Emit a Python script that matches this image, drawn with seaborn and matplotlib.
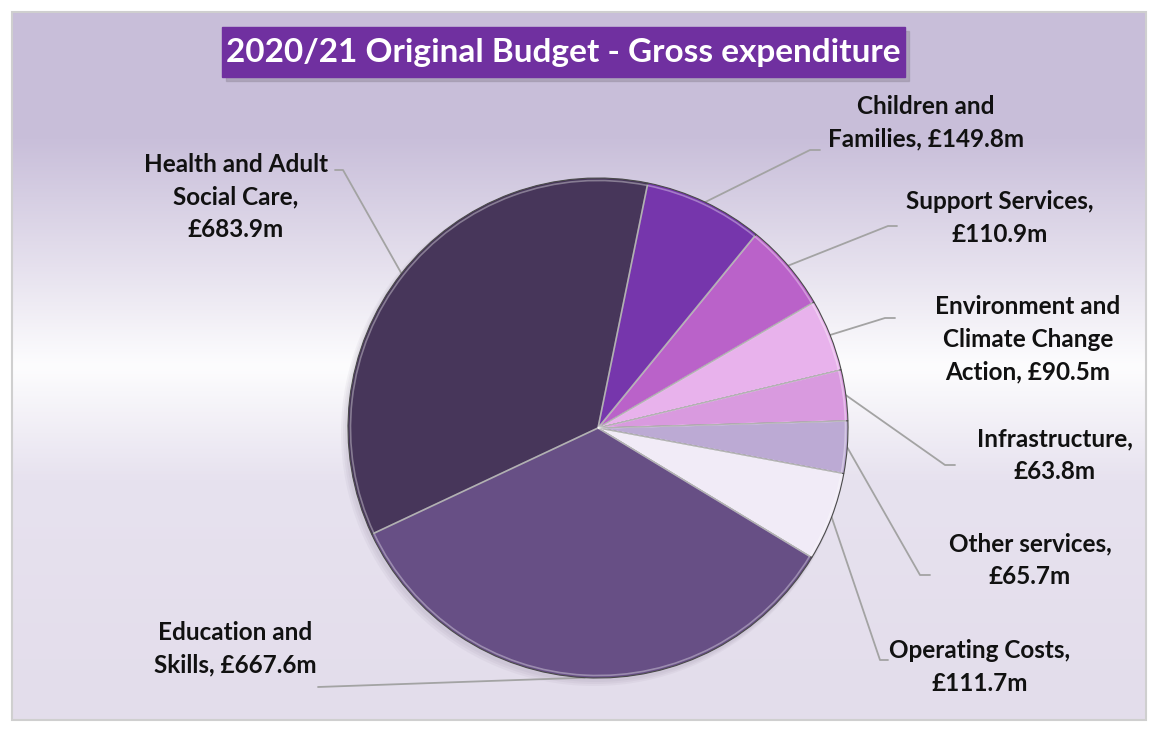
import numpy as np
import seaborn as sns
import matplotlib.pyplot as plt
from matplotlib.colors import LinearSegmentedColormap
from matplotlib.patches import Rectangle

# budget data (GBP millions), clockwise from the top
services = ["Children and\nFamilies", "Support Services,", "Environment and\nClimate Change\nAction", "Infrastructure,",
            "Other services,", "Operating Costs,", "Education and\nSkills", "Health and Adult\nSocial Care,"]
amounts = [149.8, 110.9, 90.5, 63.8, 65.7, 111.7, 667.6, 683.9]
colours = ["#7636AC", "#BA62C9", "#E8B2EC", "#D99ADF", "#BCAAD4", "#F1EBF7", "#674F85", "#47365A"]

sns.set_theme(style="white")
plt.rcParams['font.family'] = ['Lato', 'DejaVu Sans']

W, H = 1155, 729
fig = plt.figure(figsize=(W / 100, H / 100), dpi=100)
ax = fig.add_axes([0, 0, 1, 1])

def Y(y):
    return H - y

# background gradient inside the frame
bg = LinearSegmentedColormap.from_list("bg", [(0, "#C8BED9"), (0.18, "#C9BFDA"), (0.36, "#E6E1EE"),
                                              (0.5, "#FDFDFE"), (0.66, "#E7E2EF"), (1, "#E3DDEB")])
grad = np.linspace(0, 1, 256).reshape(-1, 1)
ax.imshow(grad, cmap=bg, extent=(12, 1146, Y(720), Y(12)), aspect='auto', zorder=0)
ax.add_patch(Rectangle((12, Y(720)), 1134, 708, fill=False, edgecolor="#CFCFCF", lw=1.5, zorder=1))

cx, cy, r = 598, Y(428), 250
# soft shadow under the pie
for k in range(3):
    ax.pie([1], colors=["#5A4A6A"], center=(cx - 2 - k, cy - 3 - k), radius=r + 1 + k,
           wedgeprops=dict(alpha=0.05, linewidth=0, zorder=2))
wedges, _ = ax.pie(amounts, colors=colours, startangle=78.5, counterclock=False,
                   center=(cx, cy), radius=r,
                   wedgeprops=dict(edgecolor="#4A4A4A", linewidth=0.8, zorder=3))
# light bevel highlight along the wedge edges
for w in wedges:
    span = w.theta2 - w.theta1
    w2, _ = ax.pie([span, 360 - span], startangle=w.theta1,
                   center=(cx, cy), radius=r - 2.5, colors=["none", "none"],
                   wedgeprops=dict(edgecolor="white", linewidth=1.2, alpha=0.35, zorder=4))
    w2[1].set_visible(False)

# label layout: text centre, leader elbow points
labels_pos = [
    ((926, 123), [(810, 150), (820, 150)]),
    ((1000, 218), [(888, 226), (897, 226)]),
    ((1028, 339), [(885, 318), (895, 318)]),
    ((1055, 455), [(945, 465), (955, 465)]),
    ((1030, 560), [(920, 575), (930, 575)]),
    ((980, 667), [(880, 660), (888, 660)]),
    ((235, 649), [(318, 687)]),
    ((236, 197), [(343, 170), (335, 170)]),
]

for w, name, amt, (tp, elbow) in zip(wedges, services, amounts, labels_pos):
    if "\n" in name and not name.endswith(","):
        txt = f"{name}, £{amt}m"
    else:
        txt = f"{name}\n£{amt}m"
    ax.text(tp[0], Y(tp[1]), txt, ha='center', va='center', fontsize=17.5, fontweight='bold',
            color="#111111", linespacing=1.5, zorder=5)
    mid = np.deg2rad((w.theta1 + w.theta2) / 2)
    xs = [cx + r * np.cos(mid)] + [p[0] for p in elbow]
    ys = [cy + r * np.sin(mid)] + [Y(p[1]) for p in elbow]
    ax.plot(xs, ys, color="#A3A3A3", lw=1.3, zorder=2)

# title box
ax.add_patch(Rectangle((226, Y(81)), 683, 50, color="#9C94A8", alpha=0.6, zorder=3))
ax.add_patch(Rectangle((222, Y(77)), 683, 50, color="#7030A0", zorder=4))
ax.text(563, Y(52), "2020/21 Original Budget - Gross expenditure", ha='center', va='center',
        fontsize=24, fontweight='bold', color='white', zorder=5)

ax.set_xlim(0, W)
ax.set_ylim(0, H)
ax.set_aspect('auto')
ax.axis('off')
fig.savefig("out.png", dpi=100, facecolor='white')
